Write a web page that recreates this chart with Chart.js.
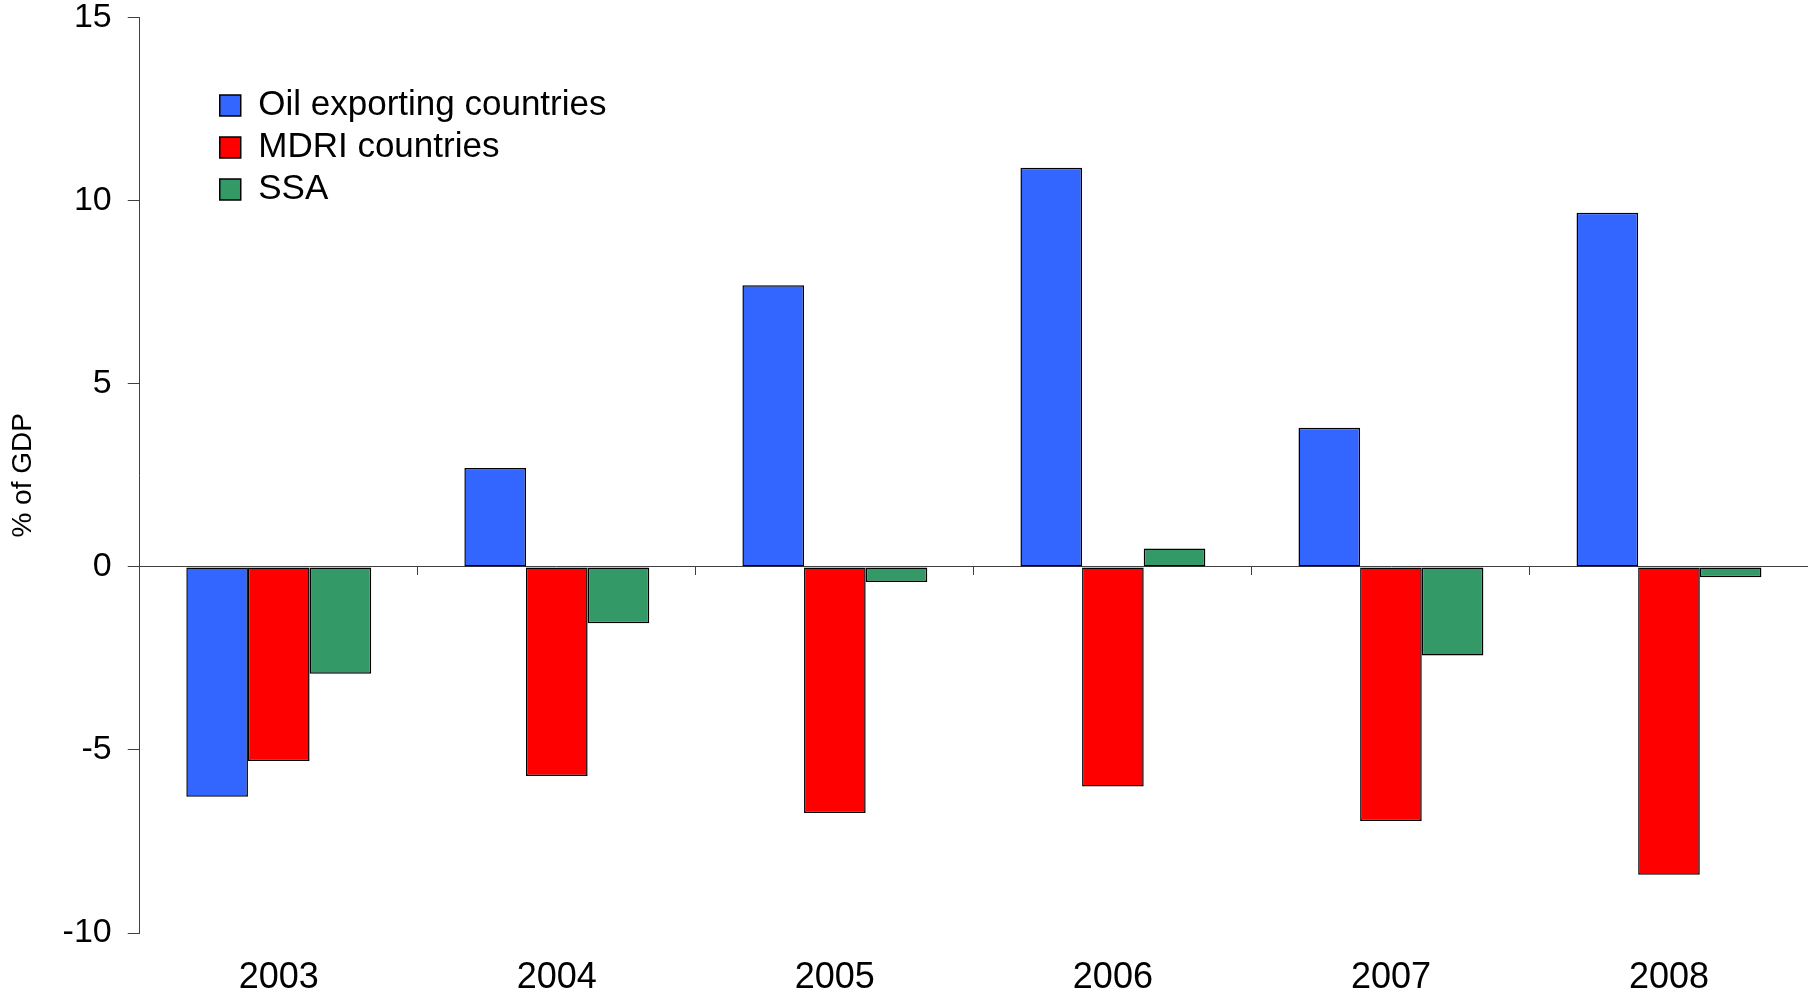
<!DOCTYPE html>
<html>
<head>
<meta charset="utf-8">
<script src="https://cdn.jsdelivr.net/npm/chart.js@4"></script>
<style>
  html, body { margin: 0; padding: 0; background: #fff; }
  #wrap { width: 1808px; height: 994px; }
</style>
</head>
<body>
<div id="wrap"><canvas id="chart"></canvas></div>
<script>
// Data
const years = ["2003", "2004", "2005", "2006", "2007", "2008"];
const oilExporting = [-6.28, 2.7, 7.69, 10.9, 3.8, 9.67];
const mdriCountries = [-5.3, -5.71, -6.72, -6.0, -6.94, -8.41];
const ssa = [-2.92, -1.54, -0.41, 0.5, -2.42, -0.28];
const yTicks = [-10, -5, 0, 5, 10, 15];

const FONT = "'Liberation Sans', Arial, sans-serif";
const AXIS = "#404040";

// push the legend inside the plot, like in the original
const legendShift = {
    id: "legendShift",
    afterLayout(chart) {
        chart.legend.left += 73;
        chart.legend.top += 81;
    }
};

function makeSet(label, data, color) {
    return {
        label: label,
        data: data,
        backgroundColor: color,
        borderColor: "#000",
        borderWidth: 1.5,
        borderSkipped: false,
        barPercentage: 1,
        categoryPercentage: 0.665
    };
}

const ctx = document.getElementById("chart").getContext("2d");
const myChart = new Chart(ctx, {
    type: "bar",
    data: {
        labels: years,
        datasets: [
            makeSet("Oil exporting countries", oilExporting, "#3366FF"),
            makeSet("MDRI countries", mdriCountries, "#FF0000"),
            makeSet("SSA", ssa, "#339966")
        ]
    },
    options: {
        responsive: true,
        maintainAspectRatio: false,
        animation: false,
        // negative bottom so the year labels sit close to the canvas edge
        layout: { padding: { top: 0, left: 0, right: 0, bottom: -29 } },
        plugins: {
            title: { display: false },
            tooltip: { enabled: false },
            legend: {
                display: true,
                position: "chartArea",
                align: "start",
                labels: {
                    boxWidth: 21,
                    boxHeight: 21,
                    padding: 7,
                    color: "#000",
                    font: { family: FONT, size: 35 }
                }
            }
        },
        scales: {
            // zero line with the small ticks between the years
            x: {
                position: { y: 0 },
                offset: true,
                ticks: { display: false },
                grid: {
                    offset: true,
                    drawOnChartArea: false,
                    drawTicks: true,
                    tickLength: 8,
                    color: AXIS
                },
                border: { display: true, color: AXIS, width: 1 }
            },
            // year labels at the bottom
            x2: {
                type: "category",
                axis: "x",
                labels: years,
                position: "bottom",
                offset: true,
                grid: { display: false, offset: true, drawTicks: false },
                border: { display: false },
                ticks: {
                    color: "#000",
                    padding: 27,
                    maxRotation: 0,
                    font: { family: FONT, size: 36, lineHeight: 1 }
                }
            },
            y: {
                position: "left",
                min: -10,
                max: 15,
                afterBuildTicks(scale) {
                    scale.ticks = yTicks.map(v => ({ value: v }));
                },
                ticks: {
                    color: "#000",
                    padding: 16,
                    font: { family: FONT, size: 34, lineHeight: 0.1 }
                },
                grid: {
                    drawOnChartArea: false,
                    drawTicks: true,
                    tickLength: 12,
                    color: AXIS
                },
                border: { display: true, color: AXIS, width: 1 },
                title: {
                    display: true,
                    text: "% of GDP",
                    color: "#000",
                    padding: { top: 6, bottom: 7 },
                    font: { family: FONT, size: 28, lineHeight: 1.2 }
                }
            }
        }
    },
    plugins: [legendShift]
});
</script>
</body>
</html>
